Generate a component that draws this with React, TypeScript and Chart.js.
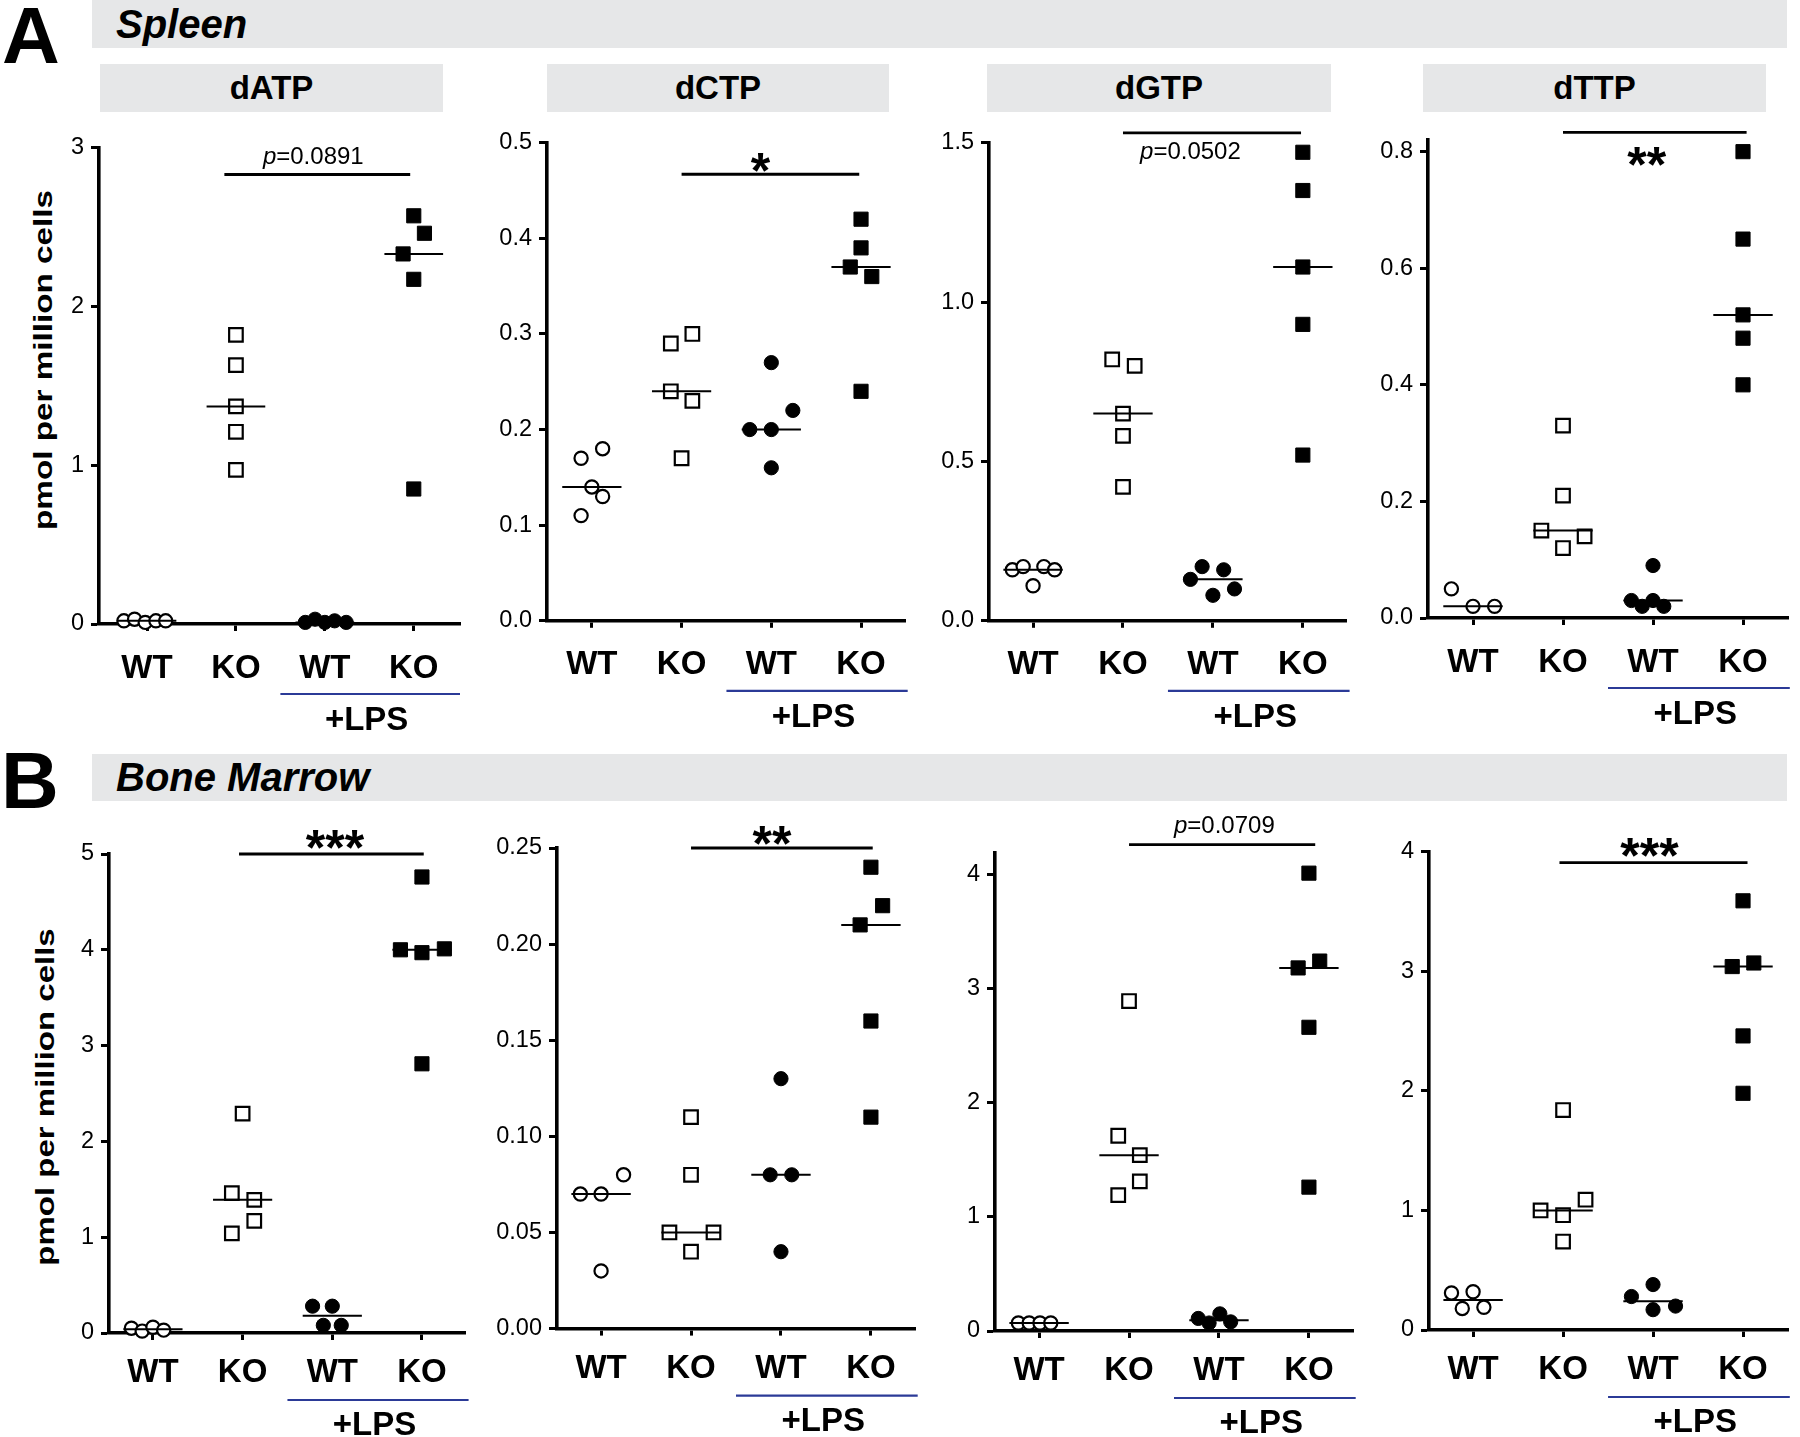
import React, { useEffect, useRef } from 'react';
import { Chart, registerables } from 'chart.js';

Chart.register(...registerables);

const FONT = '"Liberation Sans", Arial, Helvetica, sans-serif';
Chart.defaults.font.family = FONT;

// ---------- text ----------
const groupLabels = ['WT', 'KO', 'WT', 'KO'];
const nucleotides = ['dATP', 'dCTP', 'dGTP', 'dTTP'];
const tissues = ['Spleen', 'Bone Marrow'];
const panelLetters = ['A', 'B'];
const lpsLabel = '+LPS';
const yTitle = 'pmol per million cells';

// ---------- data: Spleen (groups: WT, KO, WT+LPS, KO+LPS) ----------
const spleenDATP = [
  [0.02, 0.03, 0.01, 0.02, 0.02],
  [1.82, 1.63, 1.37, 1.21, 0.97],
  [0.01, 0.03, 0.01, 0.02, 0.01],
  [2.57, 2.46, 2.33, 2.17, 0.85],
];
const spleenDCTP = [
  [0.17, 0.18, 0.14, 0.13, 0.11],
  [0.29, 0.3, 0.24, 0.23, 0.17],
  [0.27, 0.22, 0.2, 0.2, 0.16],
  [0.42, 0.39, 0.37, 0.36, 0.24],
];
const spleenDGTP = [
  [0.16, 0.17, 0.11, 0.17, 0.16],
  [0.82, 0.8, 0.65, 0.58, 0.42],
  [0.17, 0.16, 0.13, 0.08, 0.1],
  [1.47, 1.35, 1.11, 0.93, 0.52],
];
const spleenDTTP = [
  [0.05, 0.02, 0.02],
  [0.33, 0.21, 0.15, 0.14, 0.12],
  [0.09, 0.03, 0.03, 0.02, 0.02],
  [0.8, 0.65, 0.52, 0.48, 0.4],
];

// ---------- data: Bone marrow ----------
const marrowDATP = [
  [0.05, 0.02, 0.06, 0.03],
  [2.29, 1.46, 1.39, 1.17, 1.04],
  [0.28, 0.28, 0.08, 0.08],
  [4.76, 4.0, 3.97, 4.01, 2.81],
];
const marrowDCTP = [
  [0.07, 0.07, 0.08, 0.03],
  [0.11, 0.08, 0.05, 0.05, 0.04],
  [0.13, 0.08, 0.08, 0.04],
  [0.24, 0.22, 0.21, 0.16, 0.11],
];
const marrowDGTP = [
  [0.07, 0.07, 0.07, 0.07],
  [2.89, 1.71, 1.54, 1.31, 1.19],
  [0.11, 0.07, 0.15, 0.08],
  [4.01, 3.24, 3.18, 2.66, 1.26],
];
const marrowDTTP = [
  [0.31, 0.32, 0.18, 0.19],
  [1.84, 1.09, 1.0, 0.96, 0.74],
  [0.38, 0.28, 0.2, 0.17],
  [3.59, 3.07, 3.04, 2.46, 1.98],
];

// horizontal dodge of overlapping dots (category units)
const spleenDodge = [
  [[-0.26, -0.14, -0.02, 0.1, 0.21], [0, 0, 0, 0, 0], [-0.22, -0.11, 0, 0.11, 0.24], [0, 0.12, -0.12, 0, 0]],
  [[-0.12, 0.12, 0, 0.12, -0.12], [-0.12, 0.12, -0.12, 0.12, 0], [0, 0.24, -0.24, 0, 0], [0, 0, -0.12, 0.12, 0]],
  [[-0.23, -0.11, 0, 0.12, 0.24], [-0.12, 0.13, 0, 0, 0], [-0.12, 0.12, -0.25, 0, 0.24], [0, 0, 0, 0, 0]],
  [[-0.24, 0, 0.24], [0, 0, -0.24, 0.24, 0], [0, -0.24, 0, -0.12, 0.12], [0, 0, 0, 0, 0]],
];
const marrowDodge = [
  [[-0.24, -0.12, 0, 0.12], [0, -0.12, 0.13, 0.13, -0.12], [-0.22, 0, -0.1, 0.1], [0, -0.24, 0, 0.25, 0]],
  [[-0.23, 0, 0.25, 0], [0, 0, -0.24, 0.25, 0], [0, -0.12, 0.12, 0], [0, 0.13, -0.12, 0, 0]],
  [[-0.23, -0.11, 0.01, 0.13], [0, -0.12, 0.12, 0.12, -0.12], [-0.23, -0.11, 0.01, 0.13], [0, 0.12, -0.12, 0, 0]],
  [[-0.24, 0, -0.12, 0.12], [0, 0.25, -0.25, 0, 0], [0, -0.24, 0.25, 0], [0, 0.12, -0.12, 0, 0]],
];

// ---------- axes ----------
const spleenYMax = [3, 0.5, 1.5, 0.82];
const spleenYStep = [1, 0.1, 0.5, 0.2];
const spleenYDecimals = [0, 1, 1, 1];
const marrowYMax = [5, 0.25, 4.19, 4];
const marrowYStep = [1, 0.05, 1, 1];
const marrowYDecimals = [0, 2, 0, 0];

// ---------- significance ----------
const spleenSigText = ['p=0.0891', '*', 'p=0.0502', '**'];
const spleenSigLevel = [2.83, 0.467, 1.531, 0.833];
const spleenSigSpan = [[0.87, 2.96], [1, 2.98], [1, 2.98], [1, 3.04]];
const spleenSigLabelAt = [[1.87, 2.94], [1.88, 0.483], [1.75, 1.47], [1.93, 0.798]];
const marrowSigText = ['***', '**', 'p=0.0709', '***'];
const marrowSigLevel = [5.0, 0.25, 4.26, 3.91];
const marrowSigSpan = [[0.96, 3.02], [1, 3.02], [1, 3.07], [0.96, 3.05]];
const marrowSigLabelAt = [[2.03, 5.19], [1.9, 0.2584], [2.06, 4.42], [1.96, 4.06]];

// ---------- layout (page pixels) ----------
const rowLayout = [
  { canvasTop: 114, canvasBottom: 742, xLabelGap: 44.5, lpsLineGap: 70, lpsTextGap: 97 },
  { canvasTop: 805, canvasBottom: 1437, xLabelGap: 40, lpsLineGap: 67, lpsTextGap: 93 },
];
// [left, right, top, bottom, xMin, xMax]
const plotAreas = [
  [
    [99, 460, 147.5, 624, -0.54, 3.52],
    [547, 905, 142.7, 620.8, -0.5, 3.49],
    [989, 1346, 142.7, 620.8, -0.49, 3.48],
    [1428, 1788, 140, 618, -0.5, 3.5],
  ],
  [
    [109, 465, 854, 1333, -0.49, 3.48],
    [557, 915, 848, 1328.6, -0.49, 3.49],
    [995, 1353, 852.6, 1331, -0.49, 3.49],
    [1429, 1788, 851.8, 1330, -0.49, 3.5],
  ],
];
const headerBoxes = [
  [100, 443],
  [547, 889],
  [987, 1331],
  [1423, 1766],
];

const GRAY = '#e6e7e8';
const LPS_BLUE = '#2b3a97';

function median(a: number[]): number {
  const s = [...a].sort((p, q) => p - q);
  const n = s.length;
  return n % 2 ? s[(n - 1) / 2] : (s[n / 2 - 1] + s[n / 2]) / 2;
}

type PanelCfg = {
  values: number[][];
  dodge: number[][];
  yMax: number;
  yStep: number;
  dec: number;
  sigText: string;
  sigLevel: number;
  sigSpan: number[];
  sigAt: number[];
  area: number[];
  row: number;
};

const spleenSets = [spleenDATP, spleenDCTP, spleenDGTP, spleenDTTP];
const marrowSets = [marrowDATP, marrowDCTP, marrowDGTP, marrowDTTP];

const panels: PanelCfg[] = [];
for (let i = 0; i < 4; i++) {
  panels.push({
    values: spleenSets[i], dodge: spleenDodge[i], yMax: spleenYMax[i], yStep: spleenYStep[i],
    dec: spleenYDecimals[i], sigText: spleenSigText[i], sigLevel: spleenSigLevel[i],
    sigSpan: spleenSigSpan[i], sigAt: spleenSigLabelAt[i], area: plotAreas[0][i], row: 0,
  });
}
for (let i = 0; i < 4; i++) {
  panels.push({
    values: marrowSets[i], dodge: marrowDodge[i], yMax: marrowYMax[i], yStep: marrowYStep[i],
    dec: marrowYDecimals[i], sigText: marrowSigText[i], sigLevel: marrowSigLevel[i],
    sigSpan: marrowSigSpan[i], sigAt: marrowSigLabelAt[i], area: plotAreas[1][i], row: 1,
  });
}

const Y_AXIS_ROOM = 90;
const RIGHT_ROOM = 12;

function PanelChart({ cfg }: { cfg: PanelCfg }) {
  const ref = useRef<HTMLCanvasElement>(null);
  const [left, right, top, bottom, xMin, xMax] = cfg.area;
  const rl = rowLayout[cfg.row];
  const cLeft = left - Y_AXIS_ROOM;
  const cW = Math.round(right + RIGHT_ROOM - cLeft);
  const cH = rl.canvasBottom - rl.canvasTop;
  const xAxisH = rl.canvasBottom - bottom;
  const tickLen = 7;
  const xLabelPad = rl.xLabelGap - tickLen - (33 * 1.2) / 2;

  useEffect(() => {
    const canvas = ref.current;
    if (!canvas) return;

    const medianData: any[] = [];
    cfg.values.forEach((vals, g) => {
      const m = median(vals);
      medianData.push({ x: g - 0.33, y: m }, { x: g + 0.33, y: m }, { x: g + 0.5, y: null });
    });

    const pointSets = cfg.values.map((vals, g) => {
      const isCircle = g % 2 === 0;
      const filled = g >= 2;
      const r = isCircle ? (filled ? 7.1 : 6.6) : filled ? 10 : 9.6;
      return {
        type: 'scatter' as const,
        data: vals.map((v, i) => ({ x: g + cfg.dodge[g][i], y: v })),
        pointStyle: isCircle ? 'circle' : 'rect',
        pointRadius: r,
        pointHoverRadius: r,
        backgroundColor: filled ? '#000' : '#fff',
        borderColor: '#000',
        borderWidth: filled ? 1 : 2.2,
        clip: false as any,
      };
    });

    const annot = {
      id: 'annot',
      afterDraw(chart: any) {
        const ctx: CanvasRenderingContext2D = chart.ctx;
        const xs = chart.scales.x;
        const ys = chart.scales.y;
        ctx.save();
        // significance bracket
        const by = ys.getPixelForValue(cfg.sigLevel);
        ctx.strokeStyle = '#000';
        ctx.lineWidth = 2.8;
        ctx.beginPath();
        ctx.moveTo(xs.getPixelForValue(cfg.sigSpan[0]), by);
        ctx.lineTo(xs.getPixelForValue(cfg.sigSpan[1]), by);
        ctx.stroke();
        // label
        const tx = xs.getPixelForValue(cfg.sigAt[0]);
        const ty = ys.getPixelForValue(cfg.sigAt[1]);
        ctx.fillStyle = '#000';
        if (cfg.sigText.startsWith('p')) {
          const pF = `italic 24px ${FONT}`;
          const rF = `24px ${FONT}`;
          const rest = cfg.sigText.slice(1);
          ctx.font = pF;
          const w1 = ctx.measureText('p').width;
          ctx.font = rF;
          const w2 = ctx.measureText(rest).width;
          const x0 = tx - (w1 + w2) / 2;
          ctx.textAlign = 'left';
          ctx.textBaseline = 'middle';
          ctx.font = pF;
          ctx.fillText('p', x0, ty);
          ctx.font = rF;
          ctx.fillText(rest, x0 + w1, ty);
        } else {
          ctx.font = `bold 50px ${FONT}`;
          ctx.textAlign = 'center';
          ctx.textBaseline = 'alphabetic';
          ctx.fillText(cfg.sigText, tx, ty + 0.575 * 50);
        }
        // +LPS
        const axisY = chart.chartArea.bottom;
        ctx.strokeStyle = LPS_BLUE;
        ctx.lineWidth = 2.2;
        ctx.beginPath();
        ctx.moveTo(xs.getPixelForValue(1.5), axisY + rl.lpsLineGap);
        ctx.lineTo(xs.getPixelForValue(3.52), axisY + rl.lpsLineGap);
        ctx.stroke();
        ctx.font = `bold 33px ${FONT}`;
        ctx.textAlign = 'center';
        ctx.textBaseline = 'middle';
        ctx.fillStyle = '#000';
        ctx.fillText(lpsLabel, xs.getPixelForValue(2.47), axisY + rl.lpsTextGap);
        ctx.restore();
      },
    };

    const chart = new Chart(canvas, {
      type: 'scatter',
      data: {
        datasets: [
          {
            type: 'line' as const,
            data: medianData,
            borderColor: '#000',
            borderWidth: 2,
            pointRadius: 0,
            pointHoverRadius: 0,
            spanGaps: false,
            fill: false,
            clip: false as any,
          } as any,
          ...(pointSets as any[]),
        ],
      },
      options: {
        animation: false,
        responsive: false,
        devicePixelRatio: 1,
        events: [],
        layout: {
          padding: { left: 0, right: cW - (right - cLeft), top: top - rl.canvasTop, bottom: 0 },
        },
        plugins: { legend: { display: false }, tooltip: { enabled: false }, title: { display: false } },
        scales: {
          x: {
            type: 'linear',
            min: xMin,
            max: xMax,
            afterBuildTicks: (s: any) => {
              s.ticks = [0, 1, 2, 3].map((v) => ({ value: v }));
            },
            afterFit: (s: any) => {
              s.height = xAxisH;
            },
            ticks: {
              callback: (v: any) => groupLabels[Number(v)] ?? '',
              font: { size: 33, weight: 'bold', family: FONT },
              color: '#000',
              padding: xLabelPad,
              maxRotation: 0,
              autoSkip: false,
            },
            grid: { display: true, drawOnChartArea: false, drawTicks: true, tickLength: tickLen, tickWidth: 3, tickColor: '#000' },
            border: { display: true, color: '#000', width: 3.6 },
          },
          y: {
            type: 'linear',
            min: 0,
            max: cfg.yMax,
            afterBuildTicks: (s: any) => {
              const arr: any[] = [];
              for (let i = 0; i * cfg.yStep <= cfg.yMax + 1e-9; i++) arr.push({ value: +(i * cfg.yStep).toFixed(6) });
              s.ticks = arr;
            },
            afterFit: (s: any) => {
              s.width = left - cLeft;
            },
            ticks: {
              callback: (v: any) => Number(v).toFixed(cfg.dec),
              font: { size: 23.5, family: FONT },
              color: '#000',
              padding: 7,
            },
            grid: { display: true, drawOnChartArea: false, drawTicks: true, tickLength: 8, tickWidth: 3, tickColor: '#000' },
            border: { display: true, color: '#000', width: 3.6 },
          },
        },
      } as any,
      plugins: [annot],
    });
    return () => chart.destroy();
  }, []);

  return (
    <canvas
      ref={ref}
      width={cW}
      height={cH}
      style={{ position: 'absolute', left: cLeft, top: rl.canvasTop, width: cW, height: cH }}
    />
  );
}

export default function App() {
  const bannerTops = [0, 754];
  const bannerH = [48, 47];
  const letterTops = [-4.4, 741];
  const yLabelCenters = [
    [43, 360],
    [45, 1097],
  ];
  return (
    <div
      style={{
        position: 'absolute',
        left: 0,
        top: 0,
        width: 1800,
        height: 1437,
        background: '#fff',
        fontFamily: FONT,
        color: '#000',
        overflow: 'hidden',
      }}
    >
      {panelLetters.map((L, r) => (
        <div
          key={'L' + r}
          style={{ position: 'absolute', left: r === 0 ? 2 : 1, top: letterTops[r], fontSize: 80, lineHeight: '80px', fontWeight: 'bold' }}
        >
          {L}
        </div>
      ))}
      {tissues.map((t, r) => (
        <React.Fragment key={'T' + r}>
          <div style={{ position: 'absolute', left: 92, top: bannerTops[r], width: 1695, height: bannerH[r], background: GRAY }} />
          <div
            style={{
              position: 'absolute',
              left: 116,
              top: bannerTops[r],
              height: bannerH[r],
              lineHeight: bannerH[r] + 'px',
              fontSize: 40,
              fontWeight: 'bold',
              fontStyle: 'italic',
              whiteSpace: 'nowrap',
            }}
          >
            {t}
          </div>
        </React.Fragment>
      ))}
      {nucleotides.map((n, i) => (
        <div
          key={'H' + i}
          style={{
            position: 'absolute',
            left: headerBoxes[i][0],
            top: 64,
            width: headerBoxes[i][1] - headerBoxes[i][0],
            height: 48,
            lineHeight: '48px',
            background: GRAY,
            textAlign: 'center',
            fontSize: 33,
            fontWeight: 'bold',
          }}
        >
          {n}
        </div>
      ))}
      {yLabelCenters.map(([cx, cy], r) => (
        <div
          key={'Y' + r}
          style={{
            position: 'absolute',
            left: cx,
            top: cy,
            fontSize: 25,
            lineHeight: 1,
            fontWeight: 'bold',
            whiteSpace: 'nowrap',
            transform: `translate(-50%, -50%) rotate(-90deg) scaleX(${r === 0 ? 1.33 : 1.32})`,
          }}
        >
          {yTitle}
        </div>
      ))}
      {panels.map((p, i) => (
        <PanelChart key={'P' + i} cfg={p} />
      ))}
    </div>
  );
}
